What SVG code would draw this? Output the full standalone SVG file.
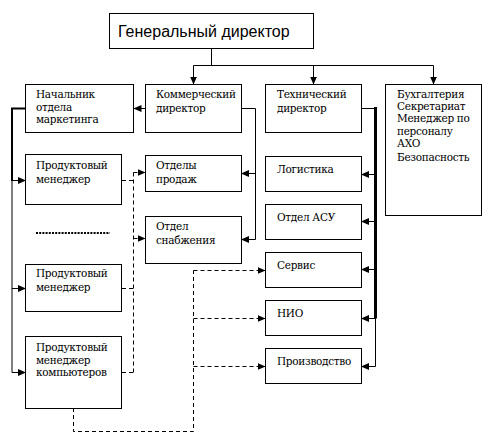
<svg xmlns="http://www.w3.org/2000/svg" width="495" height="434" viewBox="0 0 495 434">
<style>
.box{fill:#fff;stroke:#000;stroke-width:1}
.t{font-family:'DejaVu Serif','Liberation Serif',serif;font-size:10.5px;fill:#000;letter-spacing:-0.3px}
.title{font-family:'Liberation Sans',Arial,sans-serif;font-size:16px;fill:#000}
.c{fill:none;stroke:#000;stroke-width:1}
.d{fill:none;stroke:#000;stroke-width:1;stroke-dasharray:4 3}
.a{marker-end:url(#ah)}
</style>
<defs>
<marker id="ah" markerUnits="userSpaceOnUse" markerWidth="8" markerHeight="8" refX="8" refY="4" orient="auto">
<path d="M0,0.5 L8,4 L0,7.5 z" fill="#000"/>
</marker>
</defs>
<rect width="495" height="434" fill="#fff"/>

<g id="connectors">
<path class="c" d="M211.5,48 V65.5 M193.5,65.5 H433.5"/>
<path class="c a" d="M193.5,65.5 V84.5"/>
<path class="c a" d="M313.5,65.5 V84.5"/>
<path class="c a" d="M433.5,65.5 V84.5"/>
<path class="c a" d="M145.5,108.5 H133.5"/>
<path class="c" style="stroke-width:2" d="M26,108.5 H12 V181"/>
<path class="c" d="M12,180 V372.5"/>
<path class="c a" d="M12,180.5 H26"/>
<path class="c a" d="M12,288.5 H26"/>
<path class="c a" d="M12,372.5 H26"/>
<path class="c" d="M241,108.5 H255.5 V239.5"/>
<path class="c a" d="M255.5,173.5 H241"/>
<path class="c a" d="M255.5,239.5 H241"/>
<path class="c" d="M361,108.5 H376"/>
<path class="c" style="stroke-width:3" d="M375.5,107 V318.5"/>
<path class="c" d="M375.5,318 V366.5"/>
<path class="c a" d="M375.5,174.5 H361"/>
<path class="c a" d="M375.5,221.5 H361"/>
<path class="c a" d="M375.5,269.5 H361"/>
<path class="c a" d="M375.5,318.5 H361"/>
<path class="c a" d="M375.5,366.5 H361"/>
<path class="d" d="M122,180.5 H133.5 M133.5,172.5 V372.5 M122,288.5 H133.5 M122,372.5 H133.5"/>
<path class="d a" d="M133.5,172.5 H145.5"/>
<path class="d a" d="M133.5,238.5 H145.5"/>
<path class="d" d="M73.5,408 V431.5 H193.5 V270.5"/>
<path class="d a" d="M193.5,270.5 H265.5"/>
<path class="d a" d="M193.5,318.5 H265.5"/>
<path class="d a" d="M193.5,366.5 H265.5"/>
<path fill="none" stroke="#000" stroke-width="2" stroke-dasharray="2 1.2" d="M36,233 H110"/>
</g>

<g id="gen"><rect class="box" x="109.5" y="13.5" width="204" height="35"/><text class="title" x="118" y="37">Генеральный директор</text></g>

<g id="marketing"><rect class="box" x="25.5" y="84.5" width="108" height="48"/>
<text class="t" x="36" y="98">Начальник</text><text class="t" x="36" y="110.5">отдела</text><text class="t" x="36" y="123">маркетинга</text></g>

<g id="commercial"><rect class="box" x="145.5" y="84.5" width="96" height="48"/>
<text class="t" x="156" y="98">Коммерческий</text><text class="t" x="156" y="111.5">директор</text></g>

<g id="technical"><rect class="box" x="265.5" y="84.5" width="96" height="48"/>
<text class="t" x="277" y="98">Технический</text><text class="t" x="277" y="111.5">директор</text></g>

<g id="accounting"><rect class="box" x="385.5" y="84.5" width="96" height="131"/>
<text class="t" x="397" y="98">Бухгалтерия</text><text class="t" x="397" y="110.2">Секретариат</text><text class="t" x="397" y="122.4">Менеджер по</text><text class="t" x="397" y="134.6">персоналу</text><text class="t" x="397" y="146.8">АХО</text><text class="t" x="397" y="161">Безопасность</text></g>

<g id="pm1"><rect class="box" x="25.5" y="154.5" width="96" height="50"/>
<text class="t" x="36" y="169">Продуктовый</text><text class="t" x="36" y="182.5">менеджер</text></g>

<g id="pm2"><rect class="box" x="25.5" y="264.5" width="96" height="47"/>
<text class="t" x="36" y="277">Продуктовый</text><text class="t" x="36" y="290.5">менеджер</text></g>

<g id="pm3"><rect class="box" x="25.5" y="336.5" width="96" height="72"/>
<text class="t" x="36" y="351">Продуктовый</text><text class="t" x="36" y="363.5">менеджер</text><text class="t" x="36" y="376">компьютеров</text></g>

<g id="sales"><rect class="box" x="145.5" y="155.5" width="96" height="36"/>
<text class="t" x="156" y="169">Отделы</text><text class="t" x="156" y="182.5">продаж</text></g>

<g id="supply"><rect class="box" x="145.5" y="216.5" width="96" height="47"/>
<text class="t" x="156" y="230">Отдел</text><text class="t" x="156" y="243.5">снабжения</text></g>

<g id="logistics"><rect class="box" x="265.5" y="156.5" width="96" height="35"/><text class="t" x="277" y="173">Логистика</text></g>
<g id="asu"><rect class="box" x="265.5" y="204.5" width="96" height="35"/><text class="t" x="277" y="221">Отдел АСУ</text></g>
<g id="service"><rect class="box" x="265.5" y="252.5" width="96" height="35"/><text class="t" x="277" y="269">Сервис</text></g>
<g id="nio"><rect class="box" x="265.5" y="300.5" width="96" height="35"/><text class="t" x="277" y="317">НИО</text></g>
<g id="production"><rect class="box" x="265.5" y="348.5" width="96" height="35"/><text class="t" x="277" y="365">Производство</text></g>
</svg>
